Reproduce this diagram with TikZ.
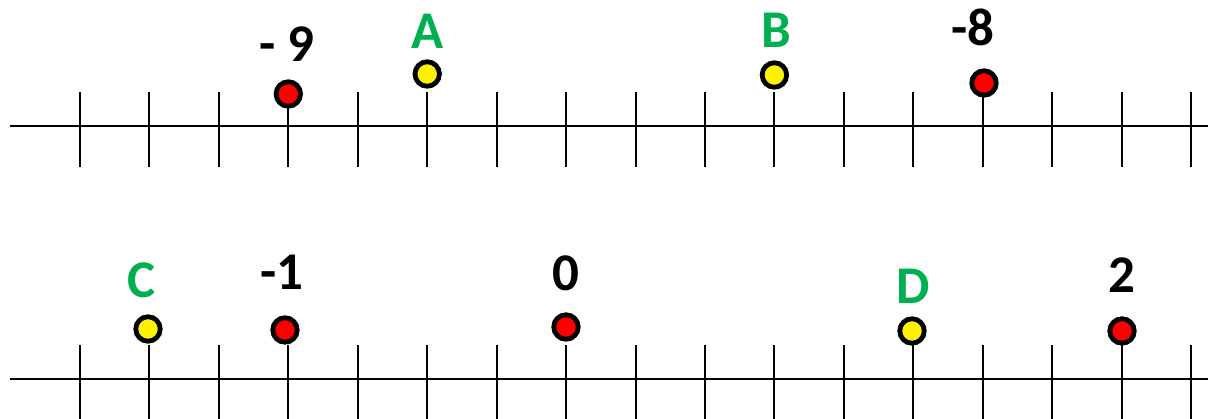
\documentclass[tikz,border=0pt]{standalone}
\usepackage{fontspec}
\setmainfont{Carlito}
\definecolor{lblgreen}{HTML}{00B050}
\begin{document}
\begin{tikzpicture}[x=1pt,y=-1pt,
  axisline/.style={line width=2.2pt,black},
  tickline/.style={line width=2pt,black},
  dotbase/.style={circle,draw=black,line width=4.8pt,minimum size=24.5pt,inner sep=0pt},
  reddot/.style={dotbase,fill=red},
  yellowdot/.style={dotbase,fill=yellow},
  lab/.style={font=\bfseries\fontsize{53}{53}\selectfont,anchor=base,inner sep=0pt},
  numlab/.style={lab,text=black},
  letlab/.style={lab,text=lblgreen}]
\useasboundingbox (0,0) rectangle (1208,419);
% top number line
\draw[axisline] (10,126) -- (1208,126);
\foreach \i in {0,...,16}
  \draw[tickline] ({80+69.44*\i},92) -- ({80+69.44*\i},167);
% bottom number line
\draw[axisline] (10,379) -- (1208,379);
\foreach \i in {0,...,16}
  \draw[tickline] ({80+69.44*\i},345) -- ({80+69.44*\i},420);
% top points
\node[reddot] (m9) at (288.3,94) {};
\node[yellowdot] (pA) at (427.2,74) {};
\node[yellowdot] (pB) at (774.4,75) {};
\node[reddot] (m8) at (984,83) {};
\node[numlab] (lm9) at (287,62) {- 9};
\node[letlab] (lA) at (428,49) {A};
\node[letlab] (lB) at (776,48) {B};
\node[numlab] (lm8) at (973,46) {-8};
% bottom points
\node[yellowdot] (pC) at (148,329) {};
\node[reddot] (m1) at (285,330) {};
\node[reddot] (z0) at (566,327) {};
\node[yellowdot] (pD) at (912,331) {};
\node[reddot] (p2) at (1122,331) {};
\node[letlab] (lC) at (142,298) {C};
\node[numlab] (lm1) at (282,290) {-1};
\node[numlab] (lz0) at (566,291) {0};
\node[letlab] (lD) at (913,304) {D};
\node[numlab] (lp2) at (1122,293) {2};
\end{tikzpicture}
\end{document}
